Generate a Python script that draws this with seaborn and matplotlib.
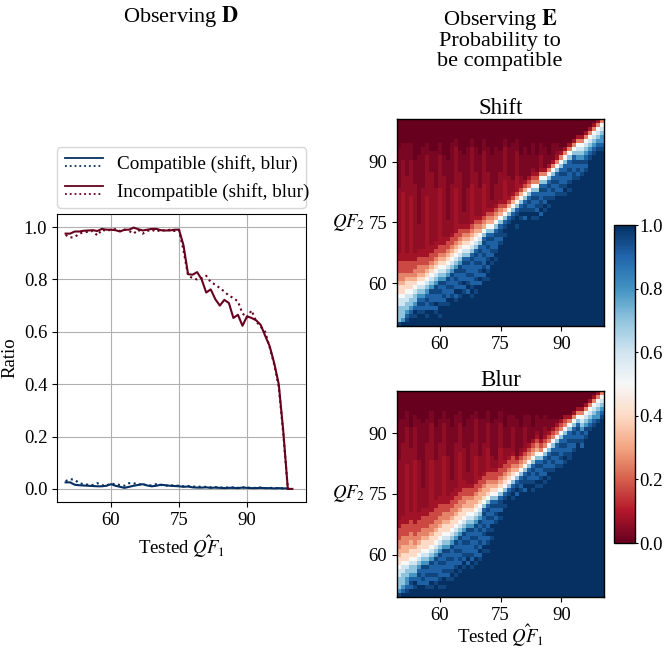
import numpy as np
import pandas as pd
import seaborn as sns
import matplotlib
matplotlib.use("Agg")
import matplotlib.pyplot as plt
from matplotlib.legend_handler import HandlerBase
from matplotlib.lines import Line2D

plt.rcParams["font.family"] = ["Liberation Serif", "DejaVu Serif"]
plt.rcParams["mathtext.fontset"] = "stix"
plt.rcParams["font.size"] = 13.5

# ---------------------------------------------------------------- data
qf = list(range(50, 101))
qf_compat = list(range(50, 100))

incompat_shift = [0.975, 0.975, 0.983, 0.983, 0.986, 0.987, 0.988, 0.985, 0.993, 0.99,
                  0.99, 0.988, 0.983, 0.99, 0.99, 0.998, 0.992, 0.987, 0.99, 0.993,
                  0.993, 0.988, 0.987, 0.987, 0.99, 0.99, 0.93, 0.82, 0.818, 0.828,
                  0.80, 0.75, 0.762, 0.725, 0.70, 0.722, 0.71, 0.653, 0.665, 0.623,
                  0.659, 0.653, 0.644, 0.627, 0.585, 0.545, 0.48, 0.40, 0.22, 0.0, 0.0]
incompat_blur = [0.97, 0.96, 0.962, 0.975, 0.98, 0.982, 0.985, 0.968, 0.99, 0.985,
                 0.99, 0.992, 0.985, 0.99, 0.985, 0.975, 0.99, 0.975, 0.985, 0.99,
                 0.982, 0.99, 0.985, 0.99, 0.985, 0.99, 0.91, 0.815, 0.805, 0.80,
                 0.805, 0.814, 0.79, 0.78, 0.767, 0.754, 0.738, 0.729, 0.716, 0.67,
                 0.655, 0.682, 0.64, 0.62, 0.60, 0.54, 0.475, 0.39, 0.21, 0.0, 0.0]
compat_shift = [0.025, 0.025, 0.016, 0.014, 0.013, 0.012, 0.011, 0.010, 0.010, 0.012,
                0.018, 0.012, 0.008, 0.004, 0.008, 0.012, 0.015, 0.018, 0.013, 0.010,
                0.012, 0.016, 0.014, 0.012, 0.011, 0.010, 0.008, 0.009, 0.006, 0.005,
                0.005, 0.006, 0.004, 0.005, 0.004, 0.003, 0.004, 0.004, 0.003, 0.005,
                0.004, 0.003, 0.003, 0.004, 0.003, 0.003, 0.002, 0.003, 0.002, 0.002]
compat_blur = [0.030, 0.037, 0.035, 0.022, 0.018, 0.016, 0.015, 0.022, 0.014, 0.013,
               0.020, 0.018, 0.015, 0.012, 0.022, 0.022, 0.016, 0.020, 0.012, 0.014,
               0.018, 0.015, 0.012, 0.014, 0.013, 0.012, 0.010, 0.011, 0.008, 0.010,
               0.007, 0.008, 0.006, 0.007, 0.005, 0.006, 0.005, 0.006, 0.004, 0.006,
               0.005, 0.004, 0.004, 0.005, 0.003, 0.004, 0.003, 0.003, 0.002, 0.002]

# heatmap cells, one run-length coded column per tested QF1 (50..100),
# read bottom (QF2=50) to top (QF2=100); "X*n" = n cells of level X
levels = dict(zip("0123456789ABCDE",
                  [0.0, 0.025, 0.055, 0.08, 0.17, 0.25, 0.32, 0.40, 0.50,
                   0.60, 0.70, 0.80, 0.91, 0.96, 1.0]))

shift_cols = [
    "D A*4 9*2 8 7*2 6 5*2 4*3 3*2 2*16 1*10 0*7",
    "E B A*3 9*2 8 7*2 6 5*2 4*3 3*2 3*15 2*8 1*4 0*6",
    "E D C B A*2 9*2 8 7*2 6 5 4*3 3*2 2*19 1*8 0*6",
    "E*2 D C B A*2 9 8 7*2 6 5 4*3 3*2 3*14 2*9 1*4 0*6",
    "E*2 D E C B A*2 9 8 7 6 5*2 4*2 3*2 2*17 1*6 0*10",
    "E*3 D C D C B A 9 8 7 6 5*2 4*2 3*2 2*6 1*17 0*9",
    "E*3 D C D C B A 9 8 7 6 5*2 4*2 3*2 2*15 1*10 0*7",
    "E*2 D E C*2 D C B A 9 8 7 6 5 4*2 3*2 3*13 2*10 1*3 0*6",
    "E*4 C D C*2 D B A 9 8 7 6 5 4*2 3*2 2*18 1*5 0*8",
    "E*3 D C E C*2 D*2 B A 9 8 7 6 5 4*2 3*2 2*13 1*9 0*8",
    "E*2 D E*2 D C*2 D C D B A 9 8 7 6 5 4*2 3*2 3*12 2*8 1*3 0*6",
    "E*5 D C D C*2 D B A 9 8 7 6 5 4*2 3*2 2*15 1*5 0*9",
    "E*5 D E C*2 D C D B A 9 8 7 6 5 4*2 3 2*4 1*15 0*10",
    "E*7 D C D C*2 D B A 9 8 7 6 5 4*2 3 2*12 1*10 0*6",
    "E*6 D C E C*2 D C D B A 9 8 7 6 5 4*2 3 3*10 2*10 1*2 0*5",
    "E*7 D E C D C*2 D*2 B A 9 8 7 6 5 4*2 3 2*13 1*5 0*8",
    "E*8 D C E C*2 D C D C A 9 8 7 6 5 4 3 2*3 1*14 0*9",
    "E*8 C E D C D C*2 D C A 9 8 7 6 5 4 3 2*9 1*10 0*7",
    "E*7 D E D C*2 D C*3 D C A 9 8 7 6 5 4 3 3*9 2*9 1*2 0*5",
    "E*8 D E C D C*3 D C D C A 9 8 7 6 5 4 3 2*11 1*6 0*7",
    "E*10 C E C D C D C*2 D C A 9 8 6 5 4 3 2*7 1*8 0*9",
    "E*11 D C E D C*2 D C*2 D C A 8 6 5 4 3 3*7 2*8 1*3 0*5",
    "E*11 D E D C E D C*2 D C D C A 8 6 5 4 3 2*9 1*6 0*7",
    "E*15 D E C D C*2 D C A 8 6 5 4 3 2*2 1*11 0*9",
    "E*16 D E D C*3 D C A 8 6 5 4 3 2*5 1*9 0*7",
    "E*20 D C D*2 C A 8 6 5 4 3 2*7 1*5 0*8",
    "E*22 D E D C A 8 6 4 3 3*5 2*8 1*2 0*5",
    "E*25 D C A 8 6 4 3 2*5 1*7 0*7",
    "E*26 D C A 8 6 4 3 2*3 1*9 0*6",
    "E*24 D E*2 D C A 8 6 4 3 3*3 2*6 1*3 0*5",
    "E*26 D E D C A 8 6 4 3 2*2 1*5 0*9",
    "E*26 C E D*2 C A 8 6 4 3 1*8 0*7",
    "E*28 D C D C A 8 5 4 3 1*5 0*9",
    "E*26 D E D C*2 D C A 8 5 4 3 2 1*6 0*6",
    "E*26 D E C D C D C A 8 5 4 3 1*4 0*9",
    "E*27 C E D*2 C*2 D C A 8 5 3 2*3 1*3 0*6",
    "E*28 D E C D C D C A 8 5 3 1*5 0*7",
    "E*29 D E D C*2 D C A 8 5 3 1*2 0*9",
    "E*31 D C D C D C A 8 5 3 1*4 0*6",
    "E*32 D C*2 D C*2 A 8 5 3 2 1*2 0*6",
    "E*32 D C D C*2 D C A 8 5 3 1 0*7",
    "E*32 D E D C*2 D C*2 A 8 5 3 0*7",
    "E*33 D E D C*2 D C*2 A 8 5 3 0*6",
    "E*36 D*2 C*2 D C A 8 5 3 0*5",
    "E*36 D C D C D B A 9 8 5 3 0*4",
    "E*37 D C*2 D B A 9 8 5 3 0*4",
    "E*38 D C D C B A 9 8 5 3 0*3",
    "E*41 D C B A 9 8 5 3 0*2",
    "E*42 D C B A 9 8 5 3 0",
    "E*43 D C B A 9 8 5 3",
    "E*43 D C B*2 A 9 8 5",
]

blur_cols = [
    "D B A*3 9*2 8 7*2 6*2 5*2 4*3 3*2 2*15 1*10 0*7",
    "E C B A*3 9*2 8 7*2 6*2 5*2 4*3 3*2 2*18 1*6 0*7",
    "E D C B*2 A*2 9 8 7*2 6*2 5*2 4*3 3*2 3*13 2*9 1*4 0*5",
    "E*2 C D C B A*2 9 8 7*2 6*2 5*2 4*3 3*2 2*16 1*5 0*9",
    "E*2 D E C B A*2 9 8 7*2 6 5*2 4*3 3*2 3*14 2*8 1*3 0*6",
    "E*3 C*2 D C B A 9 8 7*2 6 5*2 4*3 3*2 2*13 1*10 0*7",
    "E*3 C D C*2 D B A 9 8 7*2 6 5*2 4*3 3*2 2*5 1*16 0*8",
    "E*2 D C*2 D C D B A 9 8 7*2 6 5*2 4*3 3*2 2*16 1*6 0*7",
    "E*2 D E C D C*2 D B A 9 8 7*2 6 5*2 4*3 3*2 3*11 2*9 1*3 0*5",
    "E*3 D C D C*3 D B A 9 8 7*2 6 5*2 4*3 3*2 2*10 1*8 0*9",
    "E*2 D E D C*3 D C D B A 9 8 7*2 6 5*2 4*3 3*2 2*13 1*6 0*7",
    "E*2 D E*2 C D C D C*2 D B A 9 8 7*2 6 5*2 4*2 3*2 3*10 2*8 1*3 0*5",
    "E*4 D C D C*2 D C D B A 9 8 7*2 6 5*2 4*2 3*2 2*10 1*9 0*7",
    "E*4 D E D C*2 D C*2 D B A 9 8 7*2 6 5*2 4*2 3*2 2*3 1*13 0*9",
    "E*5 D E D C*3 D C D B A 9 8 7*2 6 5*2 4*2 3*2 2*11 1*7 0*6",
    "E*6 D E C D C D C*2 D B A 9 8 7*2 6 5*2 4*2 3*2 3*8 2*7 1*3 0*5",
    "E*7 D E C D C*2 D C D B A 9 8 7*2 6 5*2 4*2 3*2 2*8 1*5 0*9",
    "E*8 C E D C*2 D C*2 D B A 9 8 7 6*2 5 4*2 3 2*3 1*13 0*7",
    "E*7 D E C D C*3 D C D B A 9 8 7 6*2 5 4*2 3 2*10 1*7 0*6",
    "E*8 D E C*2 D C D C*2 D B A 9 8 7 6*2 5 4*2 3 3*6 2*9 1*2 0*5",
    "E*9 D C E C D C*2 D C D B A 9 8 7 6*2 5 4*2 3 2*5 1*9 0*7",
    "E*11 D E C*2 D C D C*2 D C A 8 7 6*2 5 4*2 3 2*7 1*6 0*7",
    "E*11 D E D C E D C*2 D C D C A 8 7 6*2 5 4*2 3 3*5 2*6 1*3 0*5",
    "E*14 D E D E C D C*2 D C A 8 7 6 5 4*2 3 2*3 1*8 0*8",
    "E*18 D C D C D C A 8 7 6 5 4*2 3 2*2 1*10 0*7",
    "E*19 D E C D*2 C A 8 7 6 5 4*2 3 3*4 2*6 1*3 0*5",
    "E*22 D E D C A 8 7 6 5 4*2 3 2*3 1*5 0*9",
    "E*25 D C A 8 7 6 5 4*2 3 2*2 1*8 0*6",
    "E*24 D E D C A 8 7 6 5 4*2 3 2*6 1*3 0*6",
    "E*25 C E D C A 8 6 5 4 3 1*9 0*7",
    "E*26 D C D C A 8 6 5 4 3 2 1*5 0*9",
    "E*26 C E D*2 C A 8 6 5 4 3 2*5 1*3 0*6",
    "E*28 D C D C A 8 6 5 4 3 1*7 0*6",
    "E*26 D E D C*2 D C A 8 6 5 4 3 1*3 0*9",
    "E*27 D E C D C D C A 8 6 5 4 3 2 1*4 0*6",
    "E*27 D E D C*2 D C A 8 5 4 3 1*5 0*7",
    "E*28 D E C D C D C A 8 5 4 3 2*2 1*3 0*6",
    "E*29 D E D C*2 D C A 8 5 4 3 1*3 0*7",
    "E*31 D C D C D C A 8 5 4 3 1*2 0*7",
    "E*32 D C*2 D C*2 A 8 5 4 3 1 0*7",
    "E*32 D C D C*2 D C A 8 5 4 3 0*7",
    "E*33 D E D C D C*2 A 8 5 4 3 0*6",
    "E*34 D*2 C*2 D C*2 A 8 5 3 0*6",
    "E*36 D C D C D C A 8 5 3 0*5",
    "E*38 D C*2 D C A 8 5 3 0*4",
    "E*37 C D C D B A 9 8 5 3 0*4",
    "E*39 D C D B A 9 8 5 3 0*3",
    "E*41 D C B A 9 8 5 3 0*2",
    "E*42 D C B A 9 8 5 3 0",
    "E*43 D B*2 A 9 8 5 3",
    "E*44 D C B A 9 8 5",
]


def decode(col):
    out = []
    for tok in col.split():
        ch, _, n = tok.partition("*")
        out += [levels[ch]] * (int(n) if n else 1)
    return out


def to_frame(cols):
    mat = np.array([decode(c) for c in cols])      # (QF1, QF2 bottom->top)
    return pd.DataFrame(mat.T[::-1], index=qf[::-1], columns=qf)


shift_df = to_frame(shift_cols)
blur_df = to_frame(blur_cols)

blue = "#053061"
red = "#67001f"


class HandlerPair(HandlerBase):
    # solid line above, dotted line below, like in the paper figure
    def create_artists(self, legend, orig_handle, xdescent, ydescent,
                       width, height, fontsize, trans):
        solid, dotted = orig_handle
        x = [-xdescent, width - xdescent]
        top = Line2D(x, [0.8 * height] * 2, color=solid.get_color(),
                     lw=1.3, ls="-", transform=trans)
        bot = Line2D(x, [0.2 * height] * 2, color=dotted.get_color(),
                     lw=1.3, ls=":", transform=trans)
        return [top, bot]


fig = plt.figure(figsize=(6.65, 6.5), dpi=100)
ax = fig.add_axes([0.0857, 0.2277, 0.3744, 0.4431])
ax_shift = fig.add_axes([0.597, 0.4985, 0.3113, 0.3185])
ax_blur = fig.add_axes([0.597, 0.0815, 0.3113, 0.317])
cax = fig.add_axes([0.9233, 0.1646, 0.0316, 0.4892])

# ---------------------------------------------------------------- D
sns.lineplot(x=qf_compat, y=compat_shift, color=blue, lw=1.5, ax=ax)
sns.lineplot(x=qf_compat, y=compat_blur, color=blue, lw=1.5, ls=":", ax=ax)
sns.lineplot(x=qf, y=incompat_shift, color=red, lw=1.5, ax=ax)
sns.lineplot(x=qf, y=incompat_blur, color=red, lw=1.5, ls=":", ax=ax)
ax.set_xlim(48.1, 103)
ax.set_ylim(-0.05, 1.05)
ax.set_xticks([60, 75, 90])
ax.set_yticks([0, 0.2, 0.4, 0.6, 0.8, 1.0])
ax.grid(True)
ax.set_xlabel(r"Tested $\hat{QF}_1$", labelpad=3)
ax.set_ylabel("Ratio")

handles = [(Line2D([], [], color=blue), Line2D([], [], color=blue)),
           (Line2D([], [], color=red), Line2D([], [], color=red))]
ax.legend(handles=handles,
          labels=["Compatible (shift, blur)", "Incompatible (shift, blur)"],
          handler_map={tuple: HandlerPair()}, loc="lower left",
          bbox_to_anchor=(0, 1.02, 1, 0.2), mode="expand", borderaxespad=0,
          fontsize=13.8, handletextpad=0.75)

# ---------------------------------------------------------------- E
for hax, df, title in [(ax_shift, shift_df, "Shift"), (ax_blur, blur_df, "Blur")]:
    sns.heatmap(df, ax=hax, cmap="RdBu", vmin=0, vmax=1,
                cbar=hax is ax_shift, cbar_ax=cax if hax is ax_shift else None,
                cbar_kws={"ticks": [0, 0.2, 0.4, 0.6, 0.8, 1.0]},
                xticklabels=False, yticklabels=False)
    hax.set_xticks([10.5, 25.5, 40.5])
    hax.set_xticklabels(["60", "75", "90"], rotation=0)
    hax.set_yticks([10.5, 25.5, 40.5])
    hax.set_yticklabels(["90", "75", "60"], rotation=0)
    hax.tick_params(length=3.5)
    for s in hax.spines.values():
        s.set_visible(True)
        s.set_linewidth(1.0)
    hax.set_title(title, fontsize=16.5, pad=3)
    hax.set_ylabel("$QF_2$", rotation=0, ha="right", va="center", labelpad=2.5)
    hax.set_xlabel("")
ax_blur.set_xlabel(r"Tested $\hat{QF}_1$", labelpad=-1)

cax.tick_params(labelsize=13.5, length=2.2, pad=0.8)
cbar = ax_shift.collections[0].colorbar
cbar.outline.set_linewidth(1.0)
cbar.outline.set_edgecolor("black")

fig.text(0.2715, 0.975, r"Observing $\mathbf{D}$", ha="center", va="center",
         fontsize=16)
fig.text(0.752, 0.99, "Observing $\\mathbf{E}$\nProbability to\nbe compatible",
         ha="center", va="top", fontsize=16, linespacing=1.05)

fig.savefig("out.png", dpi=100)
